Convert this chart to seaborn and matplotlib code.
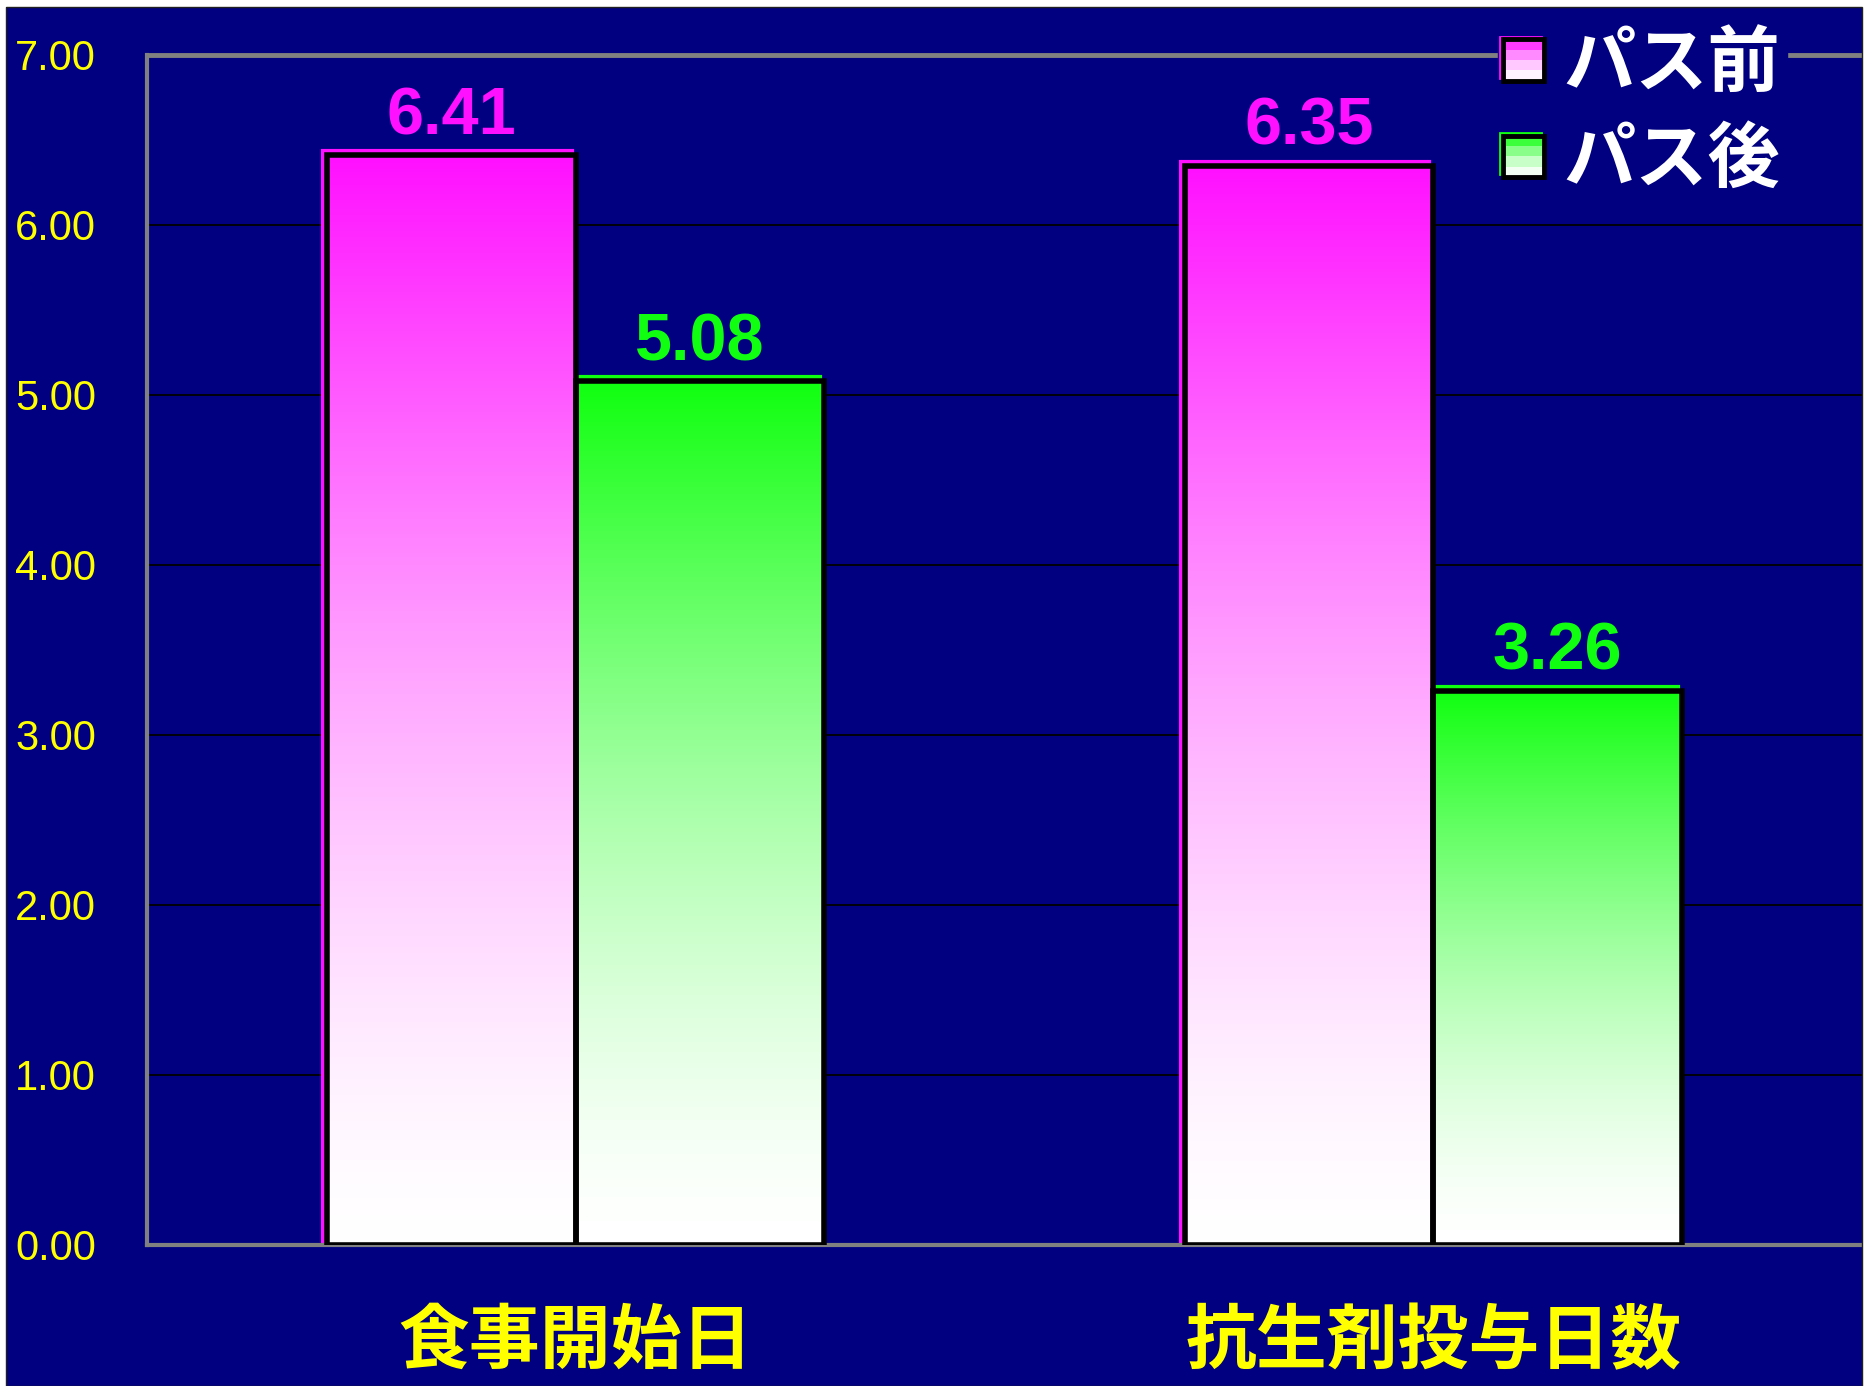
import numpy as np
import pandas as pd
import matplotlib
matplotlib.use("Agg")
import matplotlib.pyplot as plt
import matplotlib.transforms as mtransforms
from matplotlib.colors import to_rgb
from matplotlib.patches import Rectangle
from matplotlib.legend_handler import HandlerBase
from matplotlib.font_manager import FontProperties
import seaborn as sns

# ---- data ----
categories = ["食事開始日", "抗生剤投与日数"]
series_names = ["パス前", "パス後"]
before_values = [6.41, 6.35]
after_values = [5.08, 3.26]
y_ticks = [0, 1, 2, 3, 4, 5, 6, 7]

NAVY = "#000080"
YELLOW = "#FFFF00"
TOP_COLORS = {"パス前": "#FF10FF", "パス後": "#10FF10"}

df = pd.DataFrame({
    "item": categories * 2,
    "period": [series_names[0]] * len(categories) + [series_names[1]] * len(categories),
    "value": before_values + after_values,
})

sns.set_theme(style="white")
plt.rcParams["font.family"] = ["Noto Sans CJK JP", "DejaVu Sans"]

W, H, DPI = 1864, 1386, 100
fig = plt.figure(figsize=(W / DPI, H / DPI), dpi=DPI, facecolor=NAVY)
ax = fig.add_axes([147 / W, 141 / H, (1862 - 147) / W, 1190 / H])
ax.set_facecolor(NAVY)

sns.barplot(
    data=df, x="item", y="value", hue="period",
    order=categories, hue_order=series_names, palette=TOP_COLORS,
    width=0.58, dodge=True, errorbar=None, legend=False, saturation=1,
    edgecolor="black", linewidth=4, zorder=3, ax=ax,
)
ax.set_xlim(-0.5, 1.5)
ax.set_ylim(0, 7)


def gradient_rgb(hex_color, n=256):
    """Column of colours: white at the bottom, full colour at the top."""
    top = np.array(to_rgb(hex_color))
    s = np.linspace(0, 1, n)[:, None]
    rgb = 1 + (top - 1) * s ** 1.5
    return rgb[:, None, :]


shift = mtransforms.ScaledTranslation(-4 / DPI, 4 / DPI, fig.dpi_scale_trans)

for name, cont in zip(series_names, ax.containers):
    color = TOP_COLORS[name]
    for bar in cont.patches:
        x0, w, h = bar.get_x(), bar.get_width(), bar.get_height()
        im = ax.imshow(gradient_rgb(color), extent=[x0, x0 + w, 0, h],
                       origin="lower", aspect="auto", zorder=2.5,
                       interpolation="bilinear")
        im.set_clip_path(bar)
        bar.set_facecolor("none")
        # thin coloured rim peeking out at the top-left of each bar
        ax.add_patch(Rectangle((x0, 0), w, h, fill=False, edgecolor=color,
                               lw=3, transform=ax.transData + shift,
                               zorder=2.2))
    ax.bar_label(cont, labels=[f"{v:.2f}" for v in cont.datavalues],
                 padding=5, color=color, fontsize=48, fontweight="bold",
                 family=["Liberation Sans", "DejaVu Sans"], zorder=6)

ax.set_xlim(-0.5, 1.5)
ax.set_ylim(0, 7)

# ---- axes styling ----
ax.set_axisbelow(True)
ax.yaxis.grid(True, color="black", lw=1.3)
ax.xaxis.grid(False)
ax.set_yticks(y_ticks)
ax.set_yticklabels([f"{t:.2f}" for t in y_ticks])
ax.tick_params(axis="y", length=0, pad=95, labelcolor=YELLOW, labelsize=30)
for lbl in ax.get_yticklabels():
    lbl.set_ha("left")
    lbl.set_family(["Liberation Sans Narrow", "Liberation Sans", "DejaVu Sans"])

ax.tick_params(axis="x", which="major", length=0, pad=44,
               labelcolor=YELLOW, labelsize=51)
for lbl in ax.get_xticklabels():
    lbl.set_fontweight("bold")
ax.set_xticks([0.5], minor=True)
ax.tick_params(axis="x", which="minor", direction="in", length=10,
               width=1.5, color="#808080")
ax.set_xlabel("")
ax.set_ylabel("")

for side in ["left", "top", "bottom"]:
    ax.spines[side].set_visible(True)
    ax.spines[side].set_color("#808080")
ax.spines["left"].set_linewidth(3)
ax.spines["top"].set_linewidth(3.5)
ax.spines["bottom"].set_linewidth(3)
ax.spines["right"].set_visible(False)


# ---- legend with stepped gradient squares ----
class GradientSquareHandler(HandlerBase):
    def __init__(self, color):
        super().__init__()
        self.color = color

    def create_artists(self, legend, orig_handle, xdescent, ydescent,
                       width, height, fontsize, trans):
        side = height
        x0 = -xdescent + (width - side) / 2
        y0 = -ydescent
        top = np.array(to_rgb(self.color))
        arts = [Rectangle((x0 - 2, y0 + 2), side, side, fill=False,
                          edgecolor=self.color, lw=2, transform=trans)]
        nb = 4
        for i in range(nb):
            s = (i + 0.5) / nb
            rgb = 1 + (top - 1) * s ** 1.5
            arts.append(Rectangle((x0, y0 + i * side / nb), side, side / nb,
                                  facecolor=rgb, edgecolor="none",
                                  transform=trans))
        arts.append(Rectangle((x0, y0), side, side, fill=False,
                              edgecolor="black", lw=3.5, transform=trans))
        return arts


handles = [Rectangle((0, 0), 1, 1) for _ in series_names]
handler_map = {h: GradientSquareHandler(TOP_COLORS[n])
               for h, n in zip(handles, series_names)}
leg = ax.legend(
    handles=handles, labels=series_names, handler_map=handler_map,
    loc="upper right", bbox_to_anchor=(1787 / W, 1 - 20 / H),
    bbox_transform=fig.transFigure, frameon=True, facecolor=NAVY,
    edgecolor=NAVY, framealpha=1, fancybox=False,
    prop=FontProperties(family="Noto Sans CJK JP", weight="bold", size=52),
    labelcolor="white", handlelength=0.5, handleheight=0.5,
    handletextpad=0.3, labelspacing=0.3, borderpad=0.1, borderaxespad=0,
)
leg.set_zorder(10)

# ---- thin white border around the navy panel ----
for rect in [(0, 1 - 7 / H, 1, 7 / H), (0, 0, 6 / W, 1), (1862 / W, 0, 2 / W, 1)]:
    fig.add_artist(Rectangle(rect[:2], rect[2], rect[3], transform=fig.transFigure,
                             facecolor="white", edgecolor="none", zorder=20))
fig.add_artist(Rectangle((6 / W, 0), 1856 / W, 1 - 7 / H, transform=fig.transFigure,
                         fill=False, edgecolor="#202020", lw=1, zorder=21))

fig.savefig("out.png", dpi=DPI, facecolor=fig.get_facecolor())
